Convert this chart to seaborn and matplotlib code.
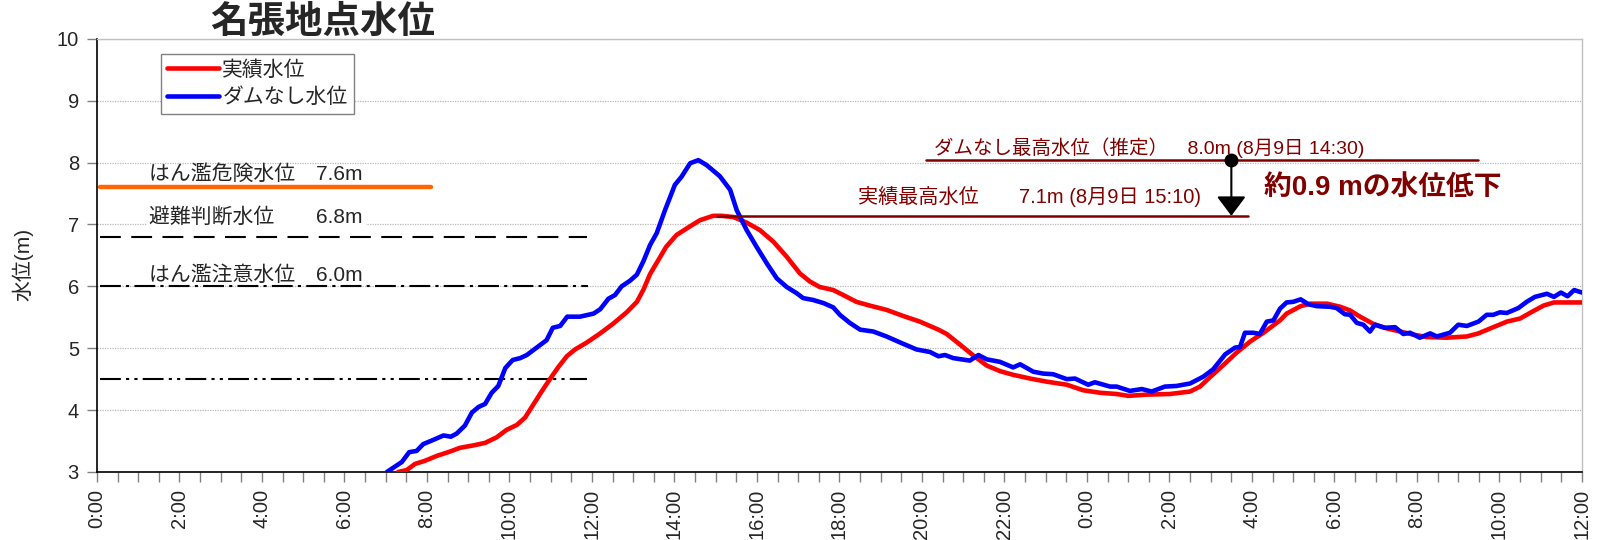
"""名張地点水位: 実績水位とダムなし水位の比較チャート."""
import matplotlib
matplotlib.use("Agg")
import matplotlib.pyplot as plt
import numpy as np
import pandas as pd
import seaborn as sns
from matplotlib.patches import ArrowStyle

# 時刻 (8月9日 0:00 からの経過時間 [h]) と水位 [m]
JISSEKI_HOURS = [
    7.30, 7.51, 7.71, 7.95, 8.24, 8.56, 8.80, 9.13, 9.41, 9.69, 9.93, 10.18,
    10.38, 10.58, 10.78, 10.98, 11.19, 11.39, 11.59, 11.87, 12.20, 12.52, 12.84,
    13.09, 13.25, 13.41, 13.80, 14.05, 14.33, 14.62, 14.94, 15.14, 15.43, 15.75,
    16.07, 16.40, 16.72, 17.04, 17.28, 17.52, 17.85, 18.09, 18.41, 18.73, 19.14,
    19.55, 19.95, 20.40, 20.60, 20.92, 21.25, 21.57, 21.89, 22.21, 22.62, 23.02,
    23.51, 23.91, 24.32, 24.72, 25.00, 25.45, 26.01, 26.50, 26.74, 26.98, 27.31,
    27.63, 27.96, 28.28, 28.68, 28.84, 29.18, 29.41, 29.82, 30.14, 30.38, 30.62,
    30.95, 31.27, 31.59, 31.91, 32.24, 32.72, 33.21, 33.49, 33.85, 34.18, 34.50,
    34.82, 35.07, 35.32, 35.65, 36.00,
]
JISSEKI_LEVEL = [
    3.00, 3.03, 3.13, 3.18, 3.26, 3.33, 3.39, 3.43, 3.47, 3.56, 3.68, 3.76,
    3.88, 4.09, 4.30, 4.50, 4.70, 4.87, 4.98, 5.09, 5.24, 5.40, 5.58,
    5.75, 5.95, 6.20, 6.64, 6.83, 6.95, 7.07, 7.14, 7.14, 7.12, 7.03,
    6.91, 6.72, 6.48, 6.21, 6.08, 5.99, 5.94, 5.86, 5.75, 5.69, 5.62,
    5.52, 5.43, 5.30, 5.23, 5.06, 4.88, 4.72, 4.63, 4.57, 4.51, 4.46,
    4.41, 4.32, 4.28, 4.26, 4.23, 4.25, 4.26, 4.30, 4.38, 4.53, 4.73,
    4.93, 5.11, 5.25, 5.45, 5.56, 5.68, 5.72, 5.72, 5.67, 5.61, 5.51,
    5.39, 5.32, 5.27, 5.22, 5.18, 5.17, 5.19, 5.24, 5.34, 5.43, 5.48,
    5.60, 5.69, 5.74, 5.74, 5.74,
]
DAMNASHI_HOURS = [
    7.03, 7.39, 7.57, 7.75, 7.91, 8.16, 8.40, 8.58, 8.72, 8.92, 9.09, 9.25,
    9.41, 9.57, 9.73, 9.90, 10.08, 10.26, 10.42, 10.58, 10.74, 10.90, 11.05,
    11.23, 11.40, 11.71, 12.04, 12.20, 12.40, 12.56, 12.72, 12.92, 13.09, 13.25,
    13.41, 13.57, 13.77, 14.01, 14.17, 14.38, 14.58, 14.78, 15.10, 15.35, 15.51,
    15.75, 15.99, 16.24, 16.48, 16.72, 16.96, 17.12, 17.36, 17.61, 17.85, 18.01,
    18.25, 18.50, 18.82, 19.14, 19.55, 19.87, 20.19, 20.40, 20.56, 20.76, 20.96,
    21.16, 21.37, 21.57, 21.89, 22.21, 22.38, 22.70, 22.94, 23.18, 23.51, 23.71,
    24.03, 24.19, 24.56, 24.72, 25.04, 25.33, 25.57, 25.89, 26.17, 26.50, 26.82,
    27.06, 27.35, 27.59, 27.71, 27.83, 28.03, 28.19, 28.36, 28.52, 28.68, 28.84,
    29.00, 29.18, 29.37, 29.57, 29.89, 30.05, 30.25, 30.38, 30.54, 30.70, 30.86,
    30.98, 31.22, 31.47, 31.67, 31.83, 32.07, 32.32, 32.48, 32.80, 33.00, 33.21,
    33.49, 33.69, 33.85, 34.01, 34.18, 34.46, 34.66, 34.86, 35.15, 35.32, 35.49,
    35.65, 35.81, 36.00,
]
DAMNASHI_LEVEL = [
    3.00, 3.16, 3.32, 3.34, 3.45, 3.52, 3.59, 3.57, 3.62, 3.75, 3.96, 4.05,
    4.10, 4.28, 4.39, 4.68, 4.81, 4.84, 4.89, 4.97, 5.05, 5.13, 5.33,
    5.36, 5.51, 5.51, 5.56, 5.63, 5.80, 5.86, 6.00, 6.09, 6.19, 6.41,
    6.67, 6.86, 7.23, 7.64, 7.77, 7.99, 8.04, 7.96, 7.78, 7.56, 7.23,
    6.91, 6.64, 6.37, 6.13, 5.99, 5.89, 5.81, 5.78, 5.73, 5.66, 5.54,
    5.41, 5.30, 5.27, 5.19, 5.07, 4.98, 4.94, 4.87, 4.89, 4.84, 4.82,
    4.80, 4.89, 4.82, 4.78, 4.69, 4.74, 4.62, 4.59, 4.58, 4.50, 4.51,
    4.41, 4.45, 4.38, 4.38, 4.31, 4.34, 4.30, 4.38, 4.39, 4.43, 4.54,
    4.66, 4.90, 5.01, 5.02, 5.25, 5.25, 5.23, 5.43, 5.45, 5.64, 5.74,
    5.75, 5.79, 5.71, 5.68, 5.67, 5.65, 5.55, 5.54, 5.41, 5.38, 5.27,
    5.38, 5.33, 5.34, 5.23, 5.25, 5.17, 5.24, 5.19, 5.25, 5.38, 5.36,
    5.43, 5.54, 5.54, 5.58, 5.57, 5.65, 5.75, 5.83, 5.88, 5.83, 5.90,
    5.84, 5.94, 5.90,
]

SERIES_NAMES = ["実績水位", "ダムなし水位"]
SERIES_COLORS = {"実績水位": "#FF0000", "ダムなし水位": "#0000FF"}

# 基準水位
THRESHOLD_LABELS = ["はん濫危険水位　7.6m", "避難判断水位　　6.8m", "はん濫注意水位　6.0m", ""]
THRESHOLD_LEVELS = [7.6, 6.8, 6.0, 4.5]
THRESHOLD_START = 0.07
THRESHOLD_END = [8.1, 11.88, 11.9, 11.88]

X_TICK_HOURS = list(range(0, 37, 2))
X_TICK_LABELS = [f"{h % 24}:00" for h in X_TICK_HOURS]

NODAM_PEAK_TEXT = "ダムなし最高水位（推定）　8.0m (8月9日 14:30)"
ACTUAL_PEAK_TEXT = "実績最高水位　　7.1m (8月9日 15:10)"
REDUCTION_TEXT = "約0.9 mの水位低下"

DARK_RED = "#800000"
FONTS = ["Liberation Sans", "Noto Sans CJK JP", "DejaVu Sans"]


def main() -> None:
    sns.set_theme(style="white")
    plt.rcParams["font.family"] = FONTS
    plt.rcParams["axes.unicode_minus"] = False

    df = pd.concat([
        pd.DataFrame({"時刻": JISSEKI_HOURS, "水位": JISSEKI_LEVEL, "系列": SERIES_NAMES[0]}),
        pd.DataFrame({"時刻": DAMNASHI_HOURS, "水位": DAMNASHI_LEVEL, "系列": SERIES_NAMES[1]}),
    ], ignore_index=True)

    fig, ax = plt.subplots(figsize=(15.97, 5.40), dpi=100)
    fig.subplots_adjust(left=0.0607, right=0.9906, bottom=0.126, top=0.928)

    # 基準水位線
    styles = [
        dict(color="#FF6600", lw=3.2, solid_capstyle="round"),
        dict(color="black", lw=1.5, dashes=(10, 5)),
        dict(color="black", lw=1.5, dashes=(10, 2.5, 1.5, 2.5)),
        dict(color="black", lw=1.5, dashes=(10, 2.5, 1.5, 2.5, 1.5, 2.5)),
    ]
    for level, end, st in zip(THRESHOLD_LEVELS, THRESHOLD_END, styles):
        ax.plot([THRESHOLD_START, end], [level, level], zorder=2, **st)

    sns.lineplot(data=df, x="時刻", y="水位", hue="系列", palette=SERIES_COLORS,
                 estimator=None, linewidth=3.3, ax=ax, zorder=3)

    # 基準水位ラベル
    ax.text(1.27, 7.65, THRESHOLD_LABELS[0], fontsize=15, va="bottom", ha="left", zorder=4)
    ax.text(1.27, 7.13, THRESHOLD_LABELS[1], fontsize=15, va="center", ha="left", zorder=4,
            bbox=dict(facecolor="white", edgecolor="none", pad=2))
    ax.text(1.27, 6.02, THRESHOLD_LABELS[2], fontsize=15, va="bottom", ha="left", zorder=4)

    # 最高水位の注記
    nodam_peak = max(DAMNASHI_LEVEL)
    actual_peak = max(JISSEKI_LEVEL)
    ax.plot([20.1, 33.47], [nodam_peak, nodam_peak], color=DARK_RED, lw=1.8, zorder=4)
    ax.plot([15.03, 27.9], [actual_peak, actual_peak], color=DARK_RED, lw=1.8, zorder=4)
    ax.text(20.3, nodam_peak + 0.03, NODAM_PEAK_TEXT, color=DARK_RED, fontsize=14,
            va="bottom", ha="left", zorder=5)
    ax.text(18.45, actual_peak + 0.14, ACTUAL_PEAK_TEXT, color=DARK_RED, fontsize=14.5,
            va="bottom", ha="left", zorder=5)
    ax.annotate("", xy=(27.5, actual_peak), xytext=(27.5, nodam_peak),
                arrowprops=dict(arrowstyle=ArrowStyle("-|>", head_length=0.6, head_width=0.45),
                                color="black", lw=1.5, mutation_scale=20,
                                shrinkA=0, shrinkB=0), zorder=6)
    ax.plot([27.5], [nodam_peak], marker="o", markersize=9, color="black", zorder=6)
    ax.text(28.3, 7.59, REDUCTION_TEXT, color=DARK_RED, fontsize=20, fontweight="bold",
            va="center", ha="left", zorder=5)

    # 軸
    ax.set_xlim(0, 36)
    ax.set_ylim(3, 10)
    ax.set_xticks(X_TICK_HOURS)
    ax.set_xticklabels(X_TICK_LABELS, rotation=90, fontsize=14.5)
    ax.set_xticks(np.arange(0, 36.01, 0.5), minor=True)
    ax.set_yticks(range(3, 11))
    ax.tick_params(axis="y", labelsize=14.5, pad=6)
    ax.tick_params(axis="x", pad=5)
    ax.tick_params(which="both", direction="out", length=7, width=1, color="#808080",
                   bottom=True, left=True)
    ax.yaxis.grid(True, color="#b8b8b8", linestyle=(0, (1, 1)), linewidth=0.9)
    ax.set_axisbelow(True)
    for side in ("left", "bottom"):
        ax.spines[side].set_color("black")
        ax.spines[side].set_linewidth(1.2)
    for side in ("top", "right"):
        ax.spines[side].set_color("#c0c0c0")
        ax.spines[side].set_linewidth(1.0)

    ax.set_xlabel("")
    ax.set_ylabel("水位(m)", fontsize=15)
    ax.yaxis.set_label_coords(-0.043, 0.48)

    handles, labels = ax.get_legend_handles_labels()
    ax.legend(handles, labels, loc="upper left", bbox_to_anchor=(0.043, 0.966),
              frameon=True, fancybox=False, edgecolor="#808080", fontsize=15,
              handlelength=2.5, borderpad=0.3, labelspacing=0.4, handletextpad=0.15,
              borderaxespad=0, framealpha=1)
    ax.get_legend().get_frame().set_linewidth(1.0)

    fig.text(0.202, 0.958, "名張地点水位", fontsize=27, fontweight="bold",
             ha="center", va="center")

    fig.savefig("out.png", dpi=100)
    plt.close(fig)


if __name__ == "__main__":
    main()
